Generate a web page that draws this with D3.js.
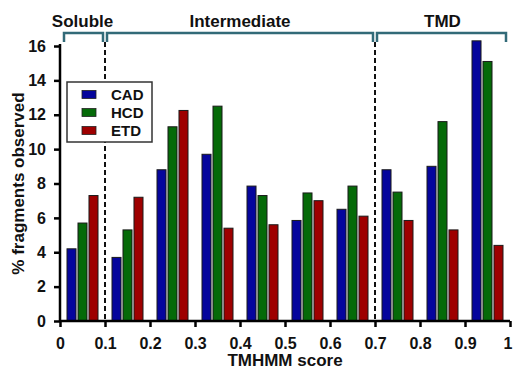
<!DOCTYPE html>
<html>
<head>
<meta charset="utf-8">
<script src="https://cdn.jsdelivr.net/npm/d3@7"></script>
<style>
  html, body { margin: 0; padding: 0; background: #fff; }
  svg { display: block; font-family: "Liberation Sans", Arial, sans-serif; font-weight: bold; }
</style>
</head>
<body>
<svg id="chart" width="513" height="370"></svg>
<script>
// ---- data ----
const bins = [0, 0.1, 0.2, 0.3, 0.4, 0.5, 0.6, 0.7, 0.8, 0.9];
const seriesNames = ["CAD", "HCD", "ETD"];
const CAD = [4.2, 3.7, 8.8, 9.7, 7.85, 5.85, 6.5, 8.8, 9.0, 16.3];
const HCD = [5.7, 5.3, 11.3, 12.5, 7.3, 7.45, 7.85, 7.5, 11.6, 15.1];
const ETD = [7.3, 7.2, 12.25, 5.4, 5.6, 7.0, 6.1, 5.85, 5.3, 4.4];
const seriesColors = ["#05059c", "#056a08", "#9e0000"];
const xTicks = [0, 0.1, 0.2, 0.3, 0.4, 0.5, 0.6, 0.7, 0.8, 0.9, 1];
const yTicks = [0, 2, 4, 6, 8, 10, 12, 14, 16];
const regions = [
  { name: "Soluble", from: 0, to: 0.1 },
  { name: "Intermediate", from: 0.1, to: 0.7 },
  { name: "TMD", from: 0.7, to: 1 }
];
const dividers = [0.1, 0.7];
const binWidth = 0.1;

(function () {
// ---- layout ----
const svg = d3.select("#chart");
const mLeft = 60, mRight = 510, mTop = 46, mBottom = 321;

const x = d3.scaleLinear().domain([0, 1]).range([mLeft, mRight]);
const y = d3.scaleLinear().domain([0, 16]).range([mBottom, mTop]);
const inner = d3.scaleBand().domain(seriesNames).range([-15.5, 15.5]).paddingInner(0.18).paddingOuter(0);
const color = d3.scaleOrdinal().domain(seriesNames).range(seriesColors);

const values = { CAD, HCD, ETD };
const barData = [];
bins.forEach((b, i) => seriesNames.forEach(s => barData.push({ bin: b, series: s, value: values[s][i] })));

// dashed dividers (behind legend)
svg.append("g").selectAll("line").data(dividers).join("line")
  .attr("x1", d => x(d)).attr("x2", d => x(d))
  .attr("y1", 42).attr("y2", mBottom)
  .attr("stroke", "#111").attr("stroke-width", 2)
  .attr("stroke-dasharray", "5,3");

// bars
svg.append("g").selectAll("rect").data(barData).join("rect")
  .attr("x", d => x(d.bin + binWidth / 2) + inner(d.series))
  .attr("y", d => y(d.value))
  .attr("width", inner.bandwidth())
  .attr("height", d => y(0) - y(d.value))
  .attr("fill", d => color(d.series))
  .attr("stroke", "#1a1a1a").attr("stroke-width", 1);

// axes
const xAxis = d3.axisBottom(x).tickValues(xTicks).tickSize(6).tickPadding(11)
  .tickFormat(d => d3.format("~g")(d));
const gx = svg.append("g").attr("transform", `translate(0,${mBottom})`).call(xAxis);
const yAxis = d3.axisLeft(y).tickValues(yTicks).tickSize(6).tickPadding(8);
const gy = svg.append("g").attr("transform", `translate(${mLeft},0)`).call(yAxis);
[gx, gy].forEach(g => {
  g.select(".domain").attr("stroke", "#000").attr("stroke-width", 2.5);
  g.selectAll(".tick line").attr("stroke", "#000").attr("stroke-width", 2.5);
  g.selectAll(".tick text").attr("fill", "#111").style("font-size", "16px")
    .style("font-family", "'Liberation Sans', Arial, sans-serif").style("font-weight", "bold");
});
gx.select(".domain").attr("d", `M${mLeft},0H${mRight}`);
gy.select(".domain").attr("d", `M0,${mBottom}V${mTop - 2}`);
// keep the last x label inside the frame
gx.selectAll(".tick text").filter(d => d === 1).attr("text-anchor", "end").attr("dx", "2");

// axis titles
svg.append("text").attr("x", (mLeft + mRight) / 2).attr("y", 366)
  .attr("text-anchor", "middle").style("font-size", "17px").attr("fill", "#111")
  .text("TMHMM score");
svg.append("text").attr("transform", `translate(24,${(mTop + mBottom) / 2}) rotate(-90)`)
  .attr("text-anchor", "middle").style("font-size", "17px").attr("fill", "#111")
  .text("% fragments observed");

// region brackets
const br = svg.append("g");
br.selectAll("path").data(regions).join("path")
  .attr("d", d => `M${x(d.from) + (d.from === 0 ? 4 : 2)},42V33H${x(d.to) - (d.to === 1 ? 4 : 2)}V42`)
  .attr("fill", "none").attr("stroke", "#326a78").attr("stroke-width", 2.5);
br.selectAll("text").data(regions).join("text")
  .attr("x", d => (x(d.from) + x(d.to)) / 2).attr("y", 27)
  .attr("text-anchor", "middle").style("font-size", "17px").attr("fill", "#111")
  .text(d => d.name);

// legend
const lg = svg.append("g").attr("transform", "translate(67,82)");
lg.append("rect").attr("width", 85).attr("height", 60)
  .attr("fill", "#fff").attr("stroke", "#333").attr("stroke-width", 1.5);
const items = lg.selectAll("g.item").data(seriesNames).join("g")
  .attr("transform", (d, i) => `translate(0,${12.5 + i * 18})`);
items.append("rect").attr("x", 15).attr("y", -4).attr("width", 14).attr("height", 8)
  .attr("fill", d => color(d)).attr("stroke", "#222").attr("stroke-width", 0.8);
items.append("text").attr("x", 44).attr("y", 0).attr("dy", "0.36em")
  .style("font-size", "15px").attr("fill", "#111").text(d => d);
})();
</script>
</body>
</html>
